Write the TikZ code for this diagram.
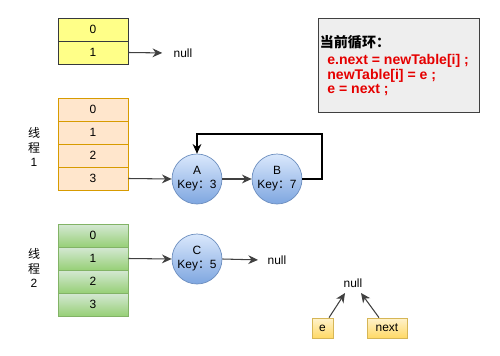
\documentclass[tikz,border=0pt]{standalone}
\usepackage{fontspec}
\setmainfont{Liberation Sans}
\newfontfamily\cjk{Noto Sans CJK SC}
\usepackage{tikz}
\usetikzlibrary{arrows.meta,calc}
\definecolor{old fill}{HTML}{FFFF88}
\definecolor{old line}{HTML}{36393D}
\definecolor{t1 fill}{HTML}{FFE6CC}
\definecolor{t1 line}{HTML}{D79B00}
\definecolor{t2 top}{HTML}{D5E8D4}
\definecolor{t2 bottom}{HTML}{97D077}
\definecolor{t2 line}{HTML}{82B366}
\definecolor{entry top}{HTML}{DAE8FC}
\definecolor{entry bottom}{HTML}{7EA6E0}
\definecolor{entry line}{HTML}{6C8EBF}
\definecolor{var top}{HTML}{FFF2CC}
\definecolor{var bottom}{HTML}{FFD966}
\definecolor{var line}{HTML}{D6B656}
\colorlet{code red}{red!90!black}
\tikzstyle{txt} = [font=\fontsize{6.8}{8}\selectfont]
\tikzstyle{cell} = [txt,draw,minimum width=1.4cm,minimum height=0.46cm,inner sep=0pt]
\tikzstyle{old cell} = [cell,fill=old fill,draw=old line]
\tikzstyle{t1 cell} = [cell,fill=t1 fill,draw=t1 line]
\tikzstyle{t2 cell} = [cell,top color=t2 top,bottom color=t2 bottom,draw=t2 line]
\tikzstyle{entry} = [txt,circle,minimum size=1cm,inner sep=0pt,align=center,
    top color=entry top,bottom color=entry bottom,draw=entry line]
\tikzstyle{var} = [txt,minimum height=0.4cm,inner sep=0pt,
    top color=var top,bottom color=var bottom,draw=var line]
\tikzstyle{thread} = [font=\fontsize{6.8}{8.2}\selectfont,align=center]
\tikzstyle{ptr} = [-{Stealth[length=5.5pt,width=5pt]},black!75,line width=0.6pt]

\begin{document}
\begin{tikzpicture}[x=0.02cm,y=-0.02cm]
        \useasboundingbox (0,0) rectangle (500,355);

        % old table
        \node[old cell] (o0) at (93,29.5) {0};
        \node[old cell] (o1) at (93,52.5) {1};
        \node[txt] (null1) at (183,53) {null};
        \draw[ptr,shorten >=3pt] (o1.east) -- (null1.west);

        % thread 1
        \node[thread] (lab1) at (34,147) {{\cjk 线}\\{\cjk 程}\\1};
        \node[t1 cell] (a0) at (93,109.5) {0};
        \node[t1 cell] (a1) at (93,132.5) {1};
        \node[t1 cell] (a2) at (93,155.5) {2};
        \node[t1 cell] (a3) at (93,178.5) {3};

        \node[entry] (A) at (197,179) {A\\Key{\cjk ：}3};
        \node[entry] (B) at (277,179) {B\\Key{\cjk ：}7};
        \coordinate (loop) at (322,134);

        \draw[ptr] (a3.east) to (A.west);
        \draw[ptr] (A.east) to (B.west);
        \draw[ptr,black] (B.east) -| (loop) -| (A.north);

        % thread 2
        \node[thread] (lab2) at (34,268) {{\cjk 线}\\{\cjk 程}\\2};
        \node[t2 cell] (b0) at (93,235.5) {0};
        \node[t2 cell] (b1) at (93,258.5) {1};
        \node[t2 cell] (b2) at (93,281.5) {2};
        \node[t2 cell] (b3) at (93,304.5) {3};

        \node[entry] (C) at (197,259) {C\\Key{\cjk ：}5};
        \node[txt] (null2) at (277,260) {null};

        \draw[ptr] (b1.east) to (C.west);
        \draw[ptr,shorten >=2pt] (C.east) to (null2.west);

        % current loop
        \node[draw=black!75,fill=gray!13,minimum width=3.22cm,minimum height=1.88cm] (memo) at (398.5,65) {};
        \node[anchor=north west,inner sep=0pt,align=left,font=\fontsize{8}{8.5}\selectfont\bfseries] (code) at (319.5,35)
            {{\cjk 当前循环：}\\[1pt]
             \textcolor{code red}{\hspace*{0.15cm}e.next = newTable[i] ;}\\
             \textcolor{code red}{\hspace*{0.15cm}newTable[i] = e ;}\\
             \textcolor{code red}{\hspace*{0.15cm}e = next ;}};

        % e and next
        \node[txt] (null3) at (353,283) {null};
        \node[var,minimum width=0.42cm] (e) at (322.5,328) {e};
        \node[var,minimum width=0.8cm] (next) at (387,328) {next};
        \draw[ptr] ([xshift=0.13cm]e.north) to ([xshift=-0.16cm,yshift=-0.2cm]null3.center);
        \draw[ptr] ([xshift=-0.16cm]next.north) to ([xshift=0.16cm,yshift=-0.2cm]null3.center);
    \end{tikzpicture}
\end{document}
